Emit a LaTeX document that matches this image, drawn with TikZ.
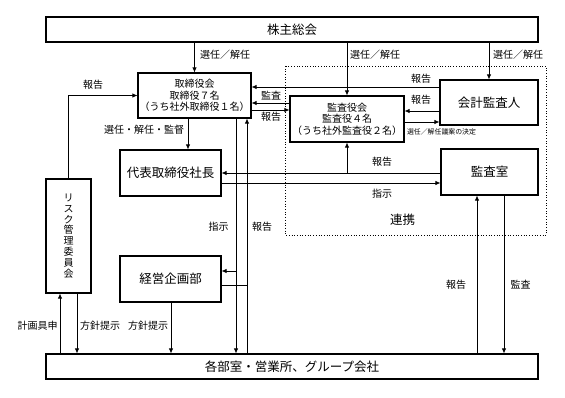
\documentclass[tikz,border=0pt]{standalone}
\usepackage{fontspec}
\setmainfont{Noto Sans CJK JP}
\usetikzlibrary{arrows.meta}
\begin{document}
\begin{tikzpicture}[x=1pt,y=-1pt,
  box/.style={draw, line width=1.1pt, inner sep=0pt, align=center},
  big/.style={font=\fontsize{12.5}{14}\selectfont},
  mid/.style={font=\fontsize{10}{11.6}\selectfont},
  lab/.style={font=\fontsize{10}{12}\selectfont, inner sep=0pt},
  tiny/.style={font=\fontsize{6.9}{8}\selectfont, inner sep=0pt},
  conn/.style={line width=0.8pt},
  arr/.style={conn, -{Latex[length=5pt,width=4.5pt]}}]
\useasboundingbox (0,0) rectangle (565,398);
% dotted cooperation area
\draw[dotted, line width=0.7pt] (285,66) rectangle (546,235);
% boxes
\node[box, big, minimum width=492pt, minimum height=25pt] (soukai) at (292,29.5) {株主総会};
\node[box, mid, minimum width=113pt, minimum height=45pt] (tori) at (194.5,95.5) {取締役会\\取締役７名\\（うち社外取締役１名）};
\node[box, mid, minimum width=114pt, minimum height=46pt] (kansayaku) at (347,119) {監査役会\\監査役４名\\（うち社外監査役２名）};
\node[box, big, minimum width=98pt, minimum height=45pt] (kaikei) at (489,102.5) {会計監査人};
\node[box, big, minimum width=97pt, minimum height=46pt] (shitsu) at (489.5,172) {監査室};
\node[box, big, minimum width=101pt, minimum height=46pt] (daihyo) at (170.5,173) {代表取締役社長};
\node[box, font=\fontsize{10}{10.9}\selectfont, minimum width=45pt, minimum height=114pt] (risk) at (68.5,236) {リ\\ス\\ク\\管\\理\\委\\員\\会};
\node[box, big, minimum width=101pt, minimum height=46pt] (keiei) at (170.5,279) {経営企画部};
\node[box, big, minimum width=492pt, minimum height=25pt] (kakubu) at (292,366.5) {各部室・営業所、グループ会社};
% from shareholders
\draw[arr] (soukai.south -| tori.north) -- (tori.north);
\draw[arr] (soukai.south -| kansayaku.north) -- (kansayaku.north);
\draw[arr] (soukai.south -| kaikei.north) -- (kaikei.north);
\node[lab] (l1) at (225,55) {選任／解任};
\node[lab] (l2) at (375,55) {選任／解任};
\node[lab] (l3) at (518,55) {選任／解任};
% risk committee report
\draw[arr] (risk.north) |- (tori.west);
\node[lab] (l4) at (93,85) {報告};
% board to president
\draw[arr] (188,0 |- tori.south) -- (188,0 |- daihyo.north);
\node[lab] (l5) at (144,130) {選任・解任・監督};
% instruction / report verticals
\draw[arr] (236,0 |- tori.south) -- (236,0 |- kakubu.north);
\draw[arr] (247,0 |- kakubu.north) -- (247,0 |- tori.south);
\node[lab] (l6) at (218.5,227) {指示};
\node[lab] (l7) at (262,227) {報告};
\draw[arr] (236,271) -- (keiei.east |- 0,271);
\draw[conn] (keiei.east |- 0,285) -- (247,285);
% auditors and board
\draw[arr] (kaikei.west |- 0,87) -- (tori.east |- 0,87);
\draw[arr] (kansayaku.west |- 0,103) -- (tori.east |- 0,103);
\draw[arr] (tori.east |- 0,110) -- (kansayaku.west |- 0,110);
\node[lab] (l8) at (271,96) {監査};
\node[lab] (l9) at (271,117) {報告};
\draw[arr] (kaikei.west |- 0,111) -- (kansayaku.east |- 0,111);
\draw[arr] (kansayaku.east |- 0,122) -- (kaikei.west |- 0,122);
\node[lab] (l10) at (421,79) {報告};
\node[lab] (l11) at (421,100) {報告};
\node[tiny] (l12) at (441.5,132) {選任／解任議案の決定};
% audit office
\draw[arr] (shitsu.west |- 0,173) -- (daihyo.east |- 0,173);
\draw[arr] (kansayaku.south |- 0,173) -- (kansayaku.south);
\draw[arr] (daihyo.east |- 0,183) -- (shitsu.west |- 0,183);
\node[lab] (l13) at (382,162) {報告};
\node[lab] (l14) at (382,194) {指示};
\node[font=\fontsize{12.5}{14}\selectfont, inner sep=0pt] (renkei) at (402.5,220) {連携};
\draw[arr] (477,0 |- kakubu.north) -- (477,0 |- shitsu.south);
\draw[arr] (504,0 |- shitsu.south) -- (504,0 |- kakubu.north);
\node[lab] (l15) at (456,285) {報告};
\node[lab] (l16) at (520.5,285) {監査};
% risk committee and departments
\draw[arr] (60,0 |- kakubu.north) -- (60,0 |- risk.south);
\draw[arr] (77,0 |- risk.south) -- (77,0 |- kakubu.north);
\node[lab] (l17) at (37.5,326) {計画具申};
\node[lab] (l18) at (100,326) {方針提示};
% planning to departments
\draw[arr] (171,0 |- keiei.south) -- (171,0 |- kakubu.north);
\node[lab] (l19) at (148,326) {方針提示};
\end{tikzpicture}
\end{document}
